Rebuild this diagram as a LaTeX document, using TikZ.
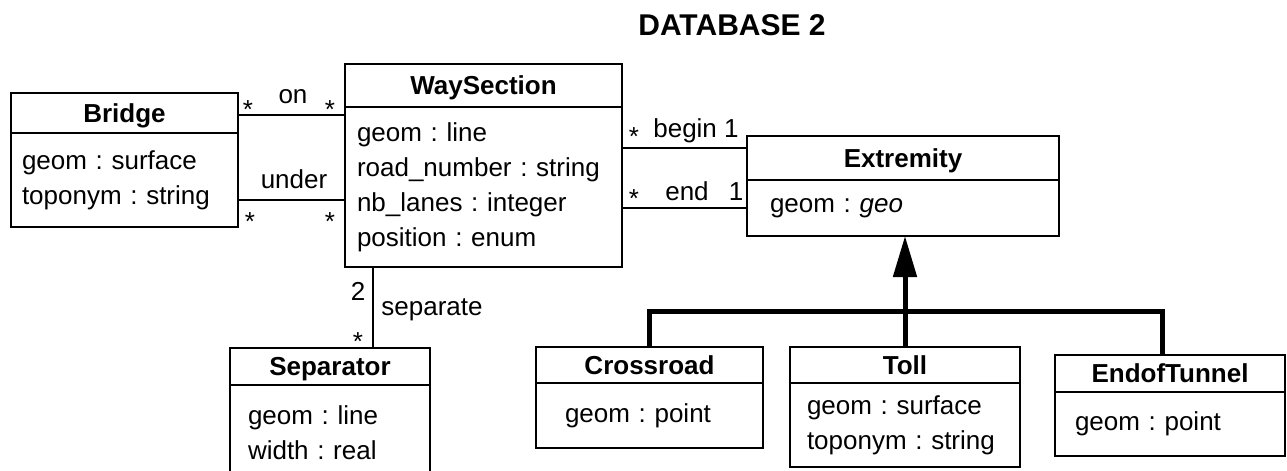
\documentclass[tikz,border=0pt]{standalone}
\usepackage{fontspec}
\setmainfont{Liberation Sans}
\usetikzlibrary{positioning,arrows.meta}

\newcommand{\umlfont}{\fontsize{13}{17.5}\selectfont\frenchspacing}

\tikzset{
  cls/.style={draw, line width=1pt, outer sep=0pt, inner sep=0pt, text depth=0pt, anchor=north west, font=\umlfont\bfseries},
  attrs/.style={draw, line width=1pt, outer sep=0pt, inner ysep=0pt, align=left, font=\umlfont},
  lbl/.style={anchor=base, inner sep=0pt, font=\umlfont},
  assoc/.style={line width=1pt},
  gen/.style={line width=2.5pt},
}

\begin{document}
\begin{tikzpicture}[x=0.5pt, y=-0.5pt]
    \useasboundingbox (0,0) rectangle (1287,471);

    % Title
    \node[anchor=base, font=\fontsize{15}{18}\selectfont\bfseries] (dbtitle) at (732,35) {DATABASE 2};

    % Classes
    \node[cls, minimum width=113.5pt, minimum height=20pt] (bridge) at (11,93) {Bridge};
    \node[attrs, below=0pt of bridge, text width=102.5pt, inner xsep=5.5pt, minimum height=47pt] (bridgeA) {geom : surface\\toponym : string};

    \node[cls, minimum width=138.5pt, minimum height=21.5pt] (ways) at (345,64) {WaySection};
    \node[attrs, below=0pt of ways, text width=126.5pt, inner xsep=6pt, minimum height=80pt] (waysA) {geom : line\\road\_number : string\\nb\_lanes : integer\\position : enum};

    \node[cls, minimum width=156pt, minimum height=22pt] (extr) at (747,136) {Extremity};
    \node[attrs, below=0pt of extr, text width=133pt, inner xsep=11.5pt, minimum height=28pt] (extrA) {geom : \textit{geo}};

    \node[cls, minimum width=100pt, minimum height=18.5pt] (sep) at (230,348) {Separator};
    \node[attrs, below=0pt of sep, text width=82pt, inner xsep=9pt, minimum height=47.5pt] (sepA) {geom : line\\width : real};

    \node[cls, minimum width=113.5pt, minimum height=18pt] (cross) at (536,347) {Crossroad};
    \node[attrs, below=0pt of cross, text width=84.5pt, inner xsep=14.5pt, minimum height=32.5pt] (crossA) {geom : point};

    \node[cls, minimum width=115pt, minimum height=18pt] (toll) at (790,347) {Toll};
    \node[attrs, below=0pt of toll, text width=98pt, inner xsep=8.5pt, minimum height=42pt] (tollA) {geom : surface\\toponym : string};

    \node[cls, minimum width=115pt, minimum height=18.5pt] (tunnel) at (1055,355) {EndofTunnel};
    \node[attrs, below=0pt of tunnel, text width=95pt, inner xsep=10pt, minimum height=32pt] (tunnelA) {geom : point};

    % Associations
    \draw[assoc] ([yshift=-1pt]bridge.east) -- ([yshift=-1pt]bridge.east -| waysA.west);
    \draw[assoc] ([yshift=-10pt]bridgeA.east) -- ([yshift=-10pt]bridgeA.east -| waysA.west);
    \draw[assoc] ([yshift=5pt]extr.west) -- ([yshift=5pt]extr.west -| waysA.east);
    \draw[assoc] (extrA.west) -- (extrA.west -| waysA.east);
    \draw[assoc] ([xshift=21.5pt]sep.north) -- ([xshift=21.5pt]sep.north |- waysA.south);

    \node[lbl] (onA) at (248,119) {*};
    \node[lbl] (onL) at (293,103) {on};
    \node[lbl] (onB) at (330,119) {*};
    \node[lbl] (underL) at (294,188) {under};
    \node[lbl] (underA) at (250,230) {*};
    \node[lbl] (underB) at (330,230) {*};
    \node[lbl] (beginA) at (634,145) {*};
    \node[lbl] (beginL) at (696,137) {begin 1};
    \node[lbl] (endA) at (634,207) {*};
    \node[lbl] (endL) at (687,200) {end};
    \node[lbl] (endB) at (736,200) {1};
    \node[lbl] (sepTwo) at (358,300) {2};
    \node[lbl] (sepL) at (432,315) {separate};
    \node[lbl] (sepB) at (358,350) {*};

    % Generalization
    \draw[gen, -{Triangle[length=20.5pt, width=11.5pt]}] (toll.north) -- (toll.north |- extrA.south);
    \draw[gen] (cross.north) -- ([yshift=18pt]cross.north) -| ([xshift=-4pt]tunnel.north);
\end{tikzpicture}
\end{document}
